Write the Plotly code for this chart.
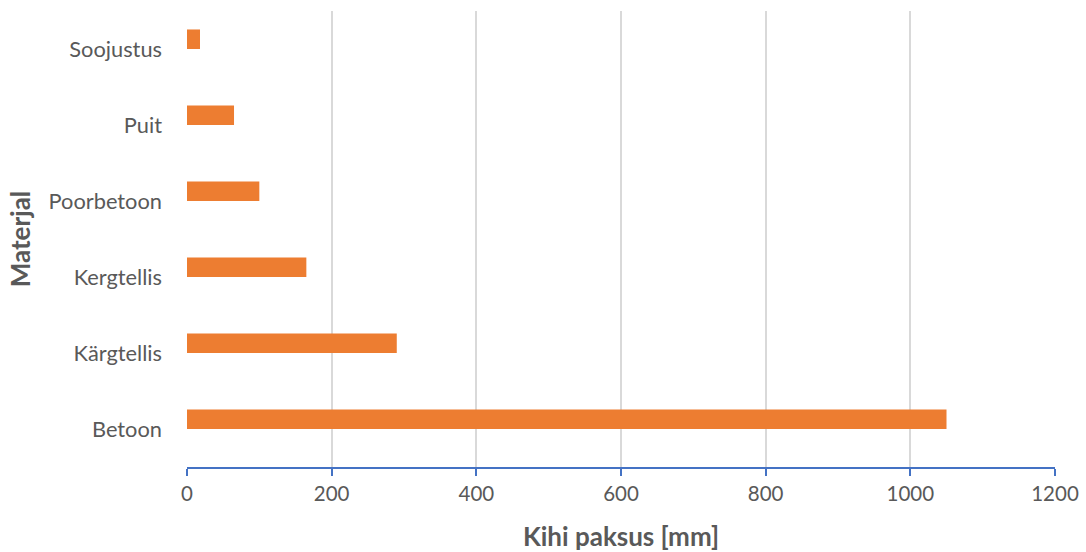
import plotly.graph_objects as go

# Layer thickness by material (bottom to top)
materials = ["Betoon", "Kärgtellis", "Kergtellis", "Poorbetoon", "Puit", "Soojustus"]
thickness_mm = [1050, 290, 165, 100, 65, 18]
x_ticks = [0, 200, 400, 600, 800, 1000, 1200]

bar_color = "#ED7D31"
text_color = "#595959"
font_family = "Lato, Carlito, Calibri, sans-serif"

fig = go.Figure(
    go.Bar(
        x=thickness_mm,
        y=materials,
        orientation="h",
        marker=dict(color=bar_color, line=dict(width=0)),
        width=0.257,
        offset=0.0,
        hoverinfo="x+y",
    )
)

fig.update_layout(
    width=1086,
    height=552,
    margin=dict(l=187, r=31, t=11, b=85),
    paper_bgcolor="white",
    plot_bgcolor="white",
    showlegend=False,
    font=dict(family=font_family, color=text_color, size=21),
)

fig.update_xaxes(
    range=[0, 1200],
    tickvals=x_ticks,
    ticktext=[str(v) for v in x_ticks],
    automargin=False,
    showgrid=True,
    gridcolor="#D9D9D9",
    gridwidth=1.5,
    zeroline=False,
    showline=True,
    linecolor="#4472C4",
    linewidth=2,
    ticks="outside",
    ticklen=7,
    tickwidth=2,
    tickcolor="#4472C4",
    tickfont=dict(size=20.5, color=text_color),
    title=dict(
        text="<b>Kihi paksus [mm]</b>",
        font=dict(size=26, color=text_color),
        standoff=26,
    ),
)

fig.update_yaxes(
    categoryorder="array",
    categoryarray=materials,
    range=[-0.5, 5.5],
    automargin=False,
    showgrid=False,
    zeroline=False,
    showline=False,
    ticks="",
    ticklabelstandoff=24,
    tickfont=dict(size=21.8, color=text_color),
    title=dict(
        text="<b>Materjal</b>",
        font=dict(size=26, color=text_color),
        standoff=10,
    ),
)

fig.write_html("out.html")
